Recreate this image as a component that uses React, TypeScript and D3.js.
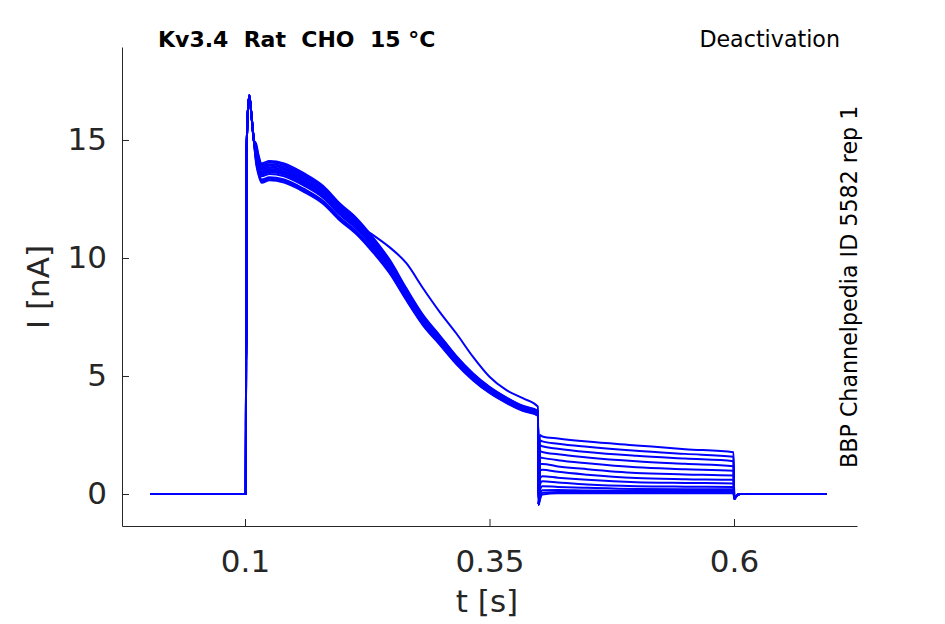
import { useEffect, useRef } from 'react'
import * as d3 from 'd3'

const width = 945
const height = 624

// main pulse (cluster centre)
const pulseT = [0.003, 0.1008, 0.1011, 0.1013, 0.1016, 0.1025, 0.1044, 0.1065, 0.109, 0.1115, 0.1135, 0.117, 0.125, 0.14, 0.16, 0.18, 0.197, 0.214, 0.231, 0.248, 0.265, 0.282, 0.299, 0.316, 0.333, 0.35, 0.367, 0.384, 0.3995]
const pulseI = [0, 0, 5.6, 6.6, 14.2, 15.8, 16.9, 16.1, 15.0, 14.4, 14.0, 13.6, 13.7, 13.6, 13.2, 12.67, 11.95, 11.35, 10.55, 9.63, 8.46, 7.37, 6.53, 5.68, 4.97, 4.41, 3.98, 3.63, 3.42]

// the one sweep that decays later than the rest
const outlierT = [0.214, 0.231, 0.248, 0.265, 0.282, 0.299, 0.316, 0.333, 0.35, 0.367, 0.384, 0.3995]
const outlierI = [11.45, 10.97, 10.45, 9.78, 8.72, 7.72, 6.81, 5.82, 4.97, 4.41, 4.06, 3.7]

// per-sweep spread of the pulse
const sweepGain = [1.0, 1.025, 0.98, 1.01, 0.97, 1.0, 1.02, 0.99, 1.005, 0.975, 1.03, 0.995, 1.015]

// tail currents after the step at 0.4 s
const tailT = [0.4003, 0.4015, 0.404, 0.42, 0.45, 0.5, 0.55, 0.5995]
const tailI = [
  [-0.45, 2.5, 2.44, 2.35, 2.22, 2.06, 1.9, 1.77],
  [-0.45, 2.28, 2.23, 2.13, 2.0, 1.83, 1.7, 1.58],
  [-0.45, 2.07, 2.02, 1.92, 1.78, 1.62, 1.5, 1.39],
  [-0.45, 1.82, 1.78, 1.68, 1.55, 1.39, 1.28, 1.18],
  [-0.45, 1.55, 1.53, 1.43, 1.3, 1.13, 1.05, 0.98],
  [-0.45, 1.27, 1.27, 1.17, 1.05, 0.89, 0.83, 0.78],
  [-0.45, 0.98, 1.03, 0.94, 0.82, 0.68, 0.63, 0.6],
  [-0.45, 0.65, 0.75, 0.69, 0.6, 0.5, 0.47, 0.45],
  [-0.45, 0.4, 0.54, 0.49, 0.4, 0.33, 0.31, 0.3],
  [-0.45, 0.15, 0.33, 0.3, 0.26, 0.21, 0.2, 0.2],
  [-0.45, -0.05, 0.16, 0.17, 0.15, 0.14, 0.13, 0.13],
  [-0.45, -0.15, 0.05, 0.08, 0.08, 0.08, 0.08, 0.08],
  [-0.45, -0.25, -0.02, 0.03, 0.03, 0.03, 0.03, 0.03],
]

// back to holding at 0.6 s
const endT = [0.6003, 0.6025, 0.606, 0.695]
const endI = [-0.2, -0.08, 0, 0]

const xTicks = [0.1, 0.35, 0.6]
const yTicks = [0, 5, 10, 15]

const x = d3.scaleLinear().domain([-0.02577, 0.72577]).range([122, 857])
const y = d3.scaleLinear().domain([-1.356, 18.94]).range([526, 47])

const font = 'DejaVu Sans'

type Pt = [number, number]

function sweep(k: number): Pt[] {
  const pts: Pt[] = []
  pulseT.forEach((t, i) => {
    if (k === 0 && t >= outlierT[0]) return
    pts.push([t, t >= 0.111 ? pulseI[i] * sweepGain[k] : pulseI[i]])
  })
  if (k === 0) outlierT.forEach((t, i) => pts.push([t, outlierI[i]]))
  tailT.forEach((t, i) => pts.push([t, tailI[k][i]]))
  endT.forEach((t, i) => pts.push([t, endI[i]]))
  return pts
}

export default function App() {
  const xRef = useRef<SVGGElement>(null)
  const yRef = useRef<SVGGElement>(null)

  useEffect(() => {
    const style = (g: d3.Selection<SVGGElement, unknown, null, undefined>) => {
      g.attr('font-size', 31).attr('font-family', font)
      g.select('.domain').attr('stroke', '#262626').attr('stroke-width', 1)
      g.selectAll('.tick line').attr('stroke', '#262626').attr('stroke-width', 1)
      g.selectAll('.tick text').attr('fill', '#262626')
    }
    const gx = d3.select(xRef.current!)
    gx.selectAll('*').remove()
    gx.call(
      d3
        .axisBottom(x)
        .tickValues(xTicks)
        .tickFormat((d) => String(d))
        .tickSizeInner(-7)
        .tickSizeOuter(0)
        .tickPadding(24),
    )
    style(gx)

    const gy = d3.select(yRef.current!)
    gy.selectAll('*').remove()
    gy.call(
      d3
        .axisLeft(y)
        .tickValues(yTicks)
        .tickFormat((d) => String(d))
        .tickSizeInner(-7)
        .tickSizeOuter(0)
        .tickPadding(15),
    )
    style(gy)
  }, [])

  const line = d3
    .line<Pt>()
    .x((d) => x(d[0]))
    .y((d) => y(d[1]))
    .curve(d3.curveMonotoneX)

  return (
    <svg
      width={width}
      height={height}
      style={{ position: 'absolute', left: 0, top: 0, background: '#fff' }}
    >
      <g>
        {tailI.map((_, k) => (
          <path key={k} d={line(sweep(k)) || ''} fill="none" stroke="#0000ff" strokeWidth={2} strokeLinejoin="round" />
        ))}
      </g>
      <g ref={xRef} transform={`translate(0,${y.range()[0]})`} />
      <g ref={yRef} transform={`translate(${x.range()[0]},0)`} />

      <text x={487} y={612} fontFamily={font} fontSize={31} fill="#262626" textAnchor="middle">
        t [s]
      </text>
      <text
        transform="translate(49,287) rotate(-90)"
        fontFamily={font}
        fontSize={31}
        fill="#262626"
        textAnchor="middle"
      >
        I [nA]
      </text>
      <text x={158} y={47} fontFamily={font} fontSize={22} fontWeight="bold" fill="#000" xmlSpace="preserve" style={{ whiteSpace: 'pre' }}>
        {'Kv3.4  Rat  CHO  15 °C'}
      </text>
      <text x={840} y={47} fontFamily={font} fontSize={22.2} fill="#000" textAnchor="end">
        Deactivation
      </text>
      <text
        transform="translate(857,468) rotate(-90)"
        fontFamily={font}
        fontSize={22.2}
        fill="#000"
      >
        BBP Channelpedia ID 5582 rep 1
      </text>
    </svg>
  )
}
